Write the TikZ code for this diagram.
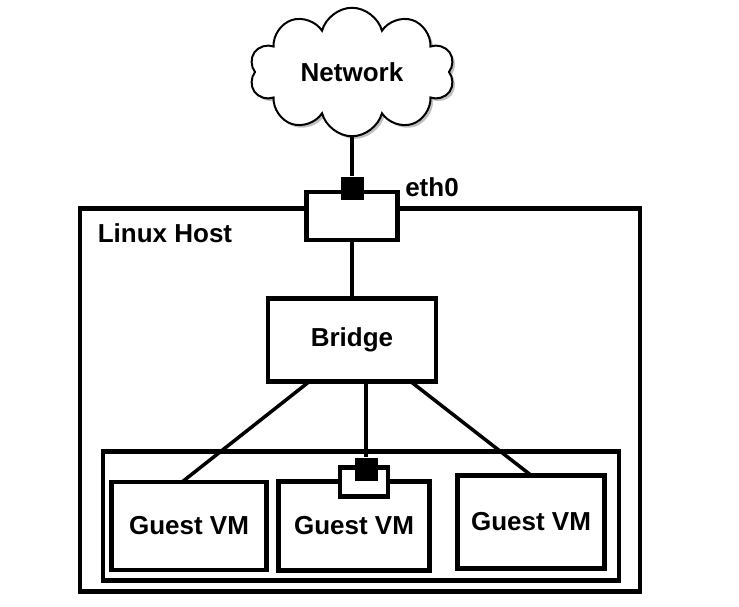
\documentclass[tikz,border=0pt]{standalone}
\usepackage{fontspec}
\setmainfont{Liberation Sans}
\usetikzlibrary{shapes.symbols,shadows}

\tikzset{
	label font/.style={font=\bfseries\fontsize{26}{30}\selectfont},
	box/.style={draw,line width=4.5pt,fill=white,inner sep=0pt,label font},
	port/.style={fill=black,minimum width=23pt,minimum height=23pt,inner sep=0pt},
	link/.style={line width=3.5pt}
}

\begin{document}
\begin{tikzpicture}[x=1pt,y=-1pt]
	\useasboundingbox (0,0) rectangle (739,606);

	\node[box,minimum width=560pt,minimum height=383pt] (host) at (360,400) {};
	\node[label font] (hostlabel) at (165,233) {Linux Host};

	\node[cloud,cloud puffs=10,aspect=1.6,draw,line width=2pt,fill=white,drop shadow,minimum width=205pt,minimum height=125pt,label font] (net) at (352,72) {Network};

	\node[box,minimum width=91pt,minimum height=48pt] (eth) at (352,216) {};
	\node[port] (ethport) at (352,188) {};
	\node[label font] (ethlabel) at (432,187) {eth0};

	\node[box,minimum width=168pt,minimum height=83pt] (bridge) at (352,340) {Bridge};

	\node[box,minimum width=516pt,minimum height=129pt] (group) at (361,516) {};
	\node[box,minimum width=155pt,minimum height=88pt] (vma) at (189,526) {Guest VM};
	\node[box,minimum width=151pt,minimum height=89pt] (vmb) at (354,526) {Guest VM};
	\node[box,minimum width=147pt,minimum height=93pt] (vmc) at (531,522) {Guest VM};
	\node[box,minimum width=48pt,minimum height=29pt] (vmport) at (364,482) {};
	\node[port] (vmportin) at (366,469) {};

	\coordinate (bl) at (310,381);
	\coordinate (bm) at (366,381);
	\coordinate (br) at (410,381);
	\coordinate (va) at (182,482);
	\coordinate (vc) at (532,476);

	\draw[link] (net.south) -- (ethport.north);
	\draw[link] (eth.south) -- (bridge.north);
	\draw[link] (bl) -- (va);
	\draw[link] (bm) -- (vmportin.north);
	\draw[link] (br) -- (vc);
\end{tikzpicture}
\end{document}
